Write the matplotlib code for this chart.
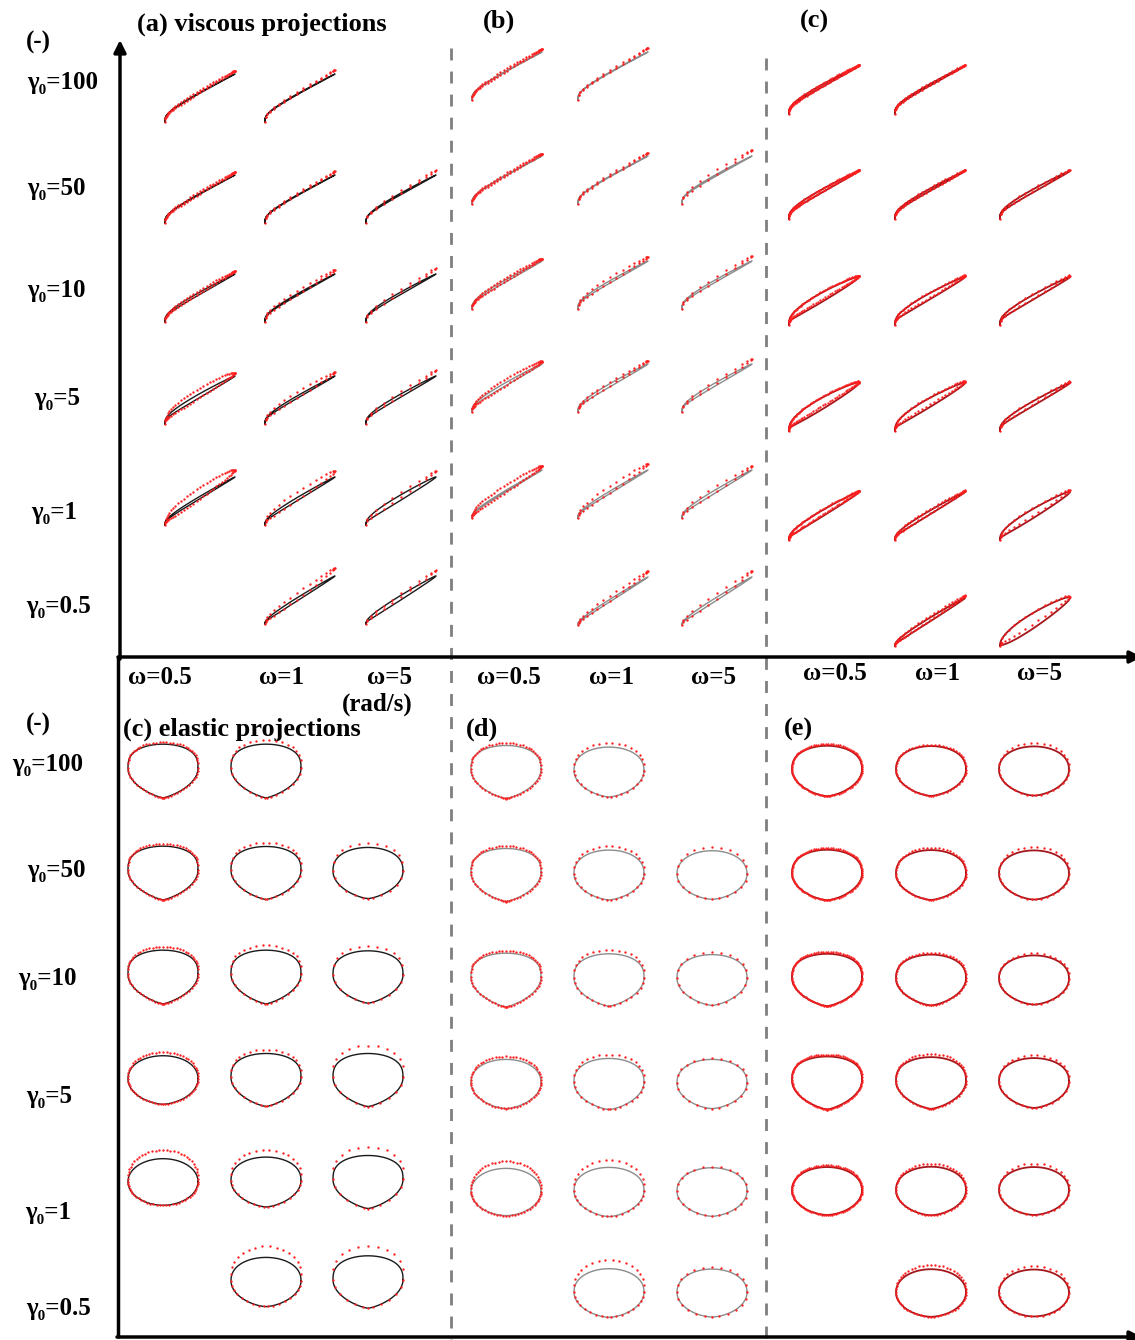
import numpy as np
import matplotlib
matplotlib.use("Agg")
import matplotlib.pyplot as plt

W, H = 1135, 1340
plt.rcParams['font.family'] = ['Liberation Serif', 'DejaVu Serif']
plt.rcParams['font.weight'] = 'bold'

gamma_labels = ["100", "50", "10", "5", "1", "0.5"]
omega_labels = ["0.5", "1", "5"]

# 1 = this (gamma0, omega) pair was measured
measured = [[1, 1, 0], [1, 1, 1], [1, 1, 1], [1, 1, 1], [1, 1, 1], [0, 1, 1]]
measured_e = [[1, 1, 1], [1, 1, 1], [1, 1, 1], [1, 1, 1], [1, 1, 1], [0, 1, 1]]

# ---- viscous projections ----
# how strongly the stress-rate curve bends near the origin, per gamma0 row
visc_bend = [0.32, 0.32, 0.30, 0.28, 0.22, 0.15]

# loop opening of model line / red data, and overshoot of red data at the end
fit_open_a = [[0.01, 0.01, 0], [0.01, 0.01, 0.02], [0.03, 0.02, 0.03], [0.05, 0.03, 0.04], [0.03, 0.04, 0.07], [0, 0.04, 0.06]]
red_open_a = [[0.04, 0.03, 0], [0.04, 0.04, 0.06], [0.06, 0.08, 0.07], [0.18, 0.11, 0.07], [0.22, 0.16, 0.09], [0, 0.12, 0.07]]
red_gain_a = [[0.07, 0.09, 0], [0.06, 0.08, 0.10], [0.06, 0.09, 0.12], [0.06, 0.08, 0.12], [0.14, 0.12, 0.12], [0, 0.17, 0.12]]

fit_open_b = [[0.01, 0.01, 0], [0.01, 0.01, 0.02], [0.03, 0.03, 0.03], [0.04, 0.04, 0.04], [0.02, 0.03, 0.04], [0, 0.03, 0.04]]
red_open_b = [[0.04, 0.03, 0], [0.04, 0.04, 0.09], [0.06, 0.09, 0.07], [0.12, 0.07, 0.07], [0.14, 0.13, 0.11], [0, 0.09, 0.11]]
red_gain_b = [[0.06, 0.09, 0], [0.05, 0.07, 0.13], [0.05, 0.09, 0.10], [0.05, 0.07, 0.10], [0.08, 0.13, 0.08], [0, 0.12, 0.12]]

fit_open_c = [[0.03, 0.02, 0], [0.04, 0.03, 0.04], [0.12, 0.08, 0.06], [0.15, 0.12, 0.06], [0.08, 0.05, 0.12], [0, 0.05, 0.20]]
red_open_c = [[0.05, 0.04, 0], [0.05, 0.05, 0.06], [0.14, 0.10, 0.08], [0.17, 0.14, 0.08], [0.10, 0.08, 0.14], [0, 0.08, 0.22]]
red_gain_c = [[0.02, 0.02, 0], [0.02, 0.02, 0.03], [0.02, 0.03, 0.03], [0.02, 0.03, 0.03], [0.02, 0.03, 0.04], [0, 0.05, 0.03]]

# ---- elastic projections ----
# egg factor of the model loop (0 = flat ellipse, 0.25 = flat top / pointed bottom)
egg_c = [[0.24, 0.24, 0], [0.24, 0.22, 0.16], [0.24, 0.24, 0.20], [0.08, 0.22, 0.22], [0.02, 0.12, 0.22], [0, 0.10, 0.20]]
egg_d = [[0.22, 0.12, 0], [0.22, 0.12, 0.08], [0.24, 0.20, 0.15], [0.10, 0.16, 0.10], [0.04, 0.10, 0.08], [0, 0.08, 0.06]]
egg_e = [[0.14, 0.12, 0.10], [0.14, 0.12, 0.10], [0.20, 0.15, 0.10], [0.22, 0.18, 0.12], [0.06, 0.08, 0.06], [0, 0.05, 0.03]]
# how far the red data sit above the model loop at the top
bulge_c = [[0.05, 0.10, 0], [0.06, 0.10, 0.12], [0.08, 0.12, 0.12], [0.10, 0.10, 0.20], [0.25, 0.20, 0.22], [0, 0.30, 0.25]]
bulge_d = [[0.06, 0.12, 0], [0.06, 0.10, 0.10], [0.06, 0.10, 0.06], [0.08, 0.10, 0.04], [0.20, 0.20, 0.03], [0, 0.25, 0.05]]
bulge_e = [[0.05, 0.04, 0.10], [0.05, 0.06, 0.10], [0.05, 0.05, 0.06], [0.05, 0.08, 0.08], [0.05, 0.08, 0.10], [0, 0.12, 0.10]]

# layout (pixels)
visc_col_x = [[200, 300, 401], [507, 613, 717], [824, 930, 1035]]
visc_row_y = [[98, 199, 298, 400, 501, 600], [76, 180, 285, 388, 494, 601], [90, 195, 301, 407, 516, 622]]
elas_col_x = [[163, 266, 368], [506, 609, 712], [827, 931, 1034]]
elas_row_y = [[771, 873, 977, 1080, 1182, 1282], [772, 875, 980, 1084, 1192, 1293], [771, 875, 980, 1083, 1191, 1293]]

line_colors = ["#1a1a1a", "#8c8c8c", "#a3161b"]
dot_color = "#ff1f1f"
dot_counts = [[64, 34, 24], [64, 34, 24], [90, 56, 34]]

fig = plt.figure(figsize=(W / 100, H / 100), dpi=100)
bg = fig.add_axes([0, 0, 1, 1])
bg.set_xlim(0, W)
bg.set_ylim(H, 0)
bg.set_axis_off()


def cell_axes(cx, cy, sx, sy, xlim, ylim):
    left = cx + xlim[0] * sx
    top = cy - ylim[1] * sy
    w = (xlim[1] - xlim[0]) * sx
    h = (ylim[1] - ylim[0]) * sy
    ax = fig.add_axes([left / W, 1 - (top + h) / H, w / W, h / H])
    ax.set_xlim(*xlim)
    ax.set_ylim(*ylim)
    ax.set_axis_off()
    return ax


def visc_loop(t, bend, up, lo, gain):
    x = (1 - np.cos(t)) / 2
    s = np.sin(t)
    y = ((1 - bend) * x + bend * x ** 0.25) * (1 + gain * x)
    y = y + np.where(s > 0, up * s, lo * s) * (1 - 0.4 * x)
    return x - 0.5, y - 0.5


def egg_loop(t, a, bulge=0.0):
    c, s = np.cos(t), np.sin(t)
    q = 1 + 2.4 * a          # pointed bottom
    m = 1 - 1.2 * a          # flat top
    depth = 1 + a
    upper = s >= 0
    x = np.where(upper, c, np.sign(c) * np.abs(c) ** q)
    y = np.where(upper, np.abs(s) ** m, -depth * np.abs(s))
    y = (y + (depth - 1) / 2) / ((1 + depth) / 2)
    top = np.clip(s, 0, None)
    y = y + 1.5 * bulge * top
    x = x * (1 + 0.4 * bulge * top)
    return x, y


tt = np.linspace(0, 2 * np.pi, 400)

# viscous cells
visc_sets = [(fit_open_a, red_open_a, red_gain_a), (fit_open_b, red_open_b, red_gain_b),
             (fit_open_c, red_open_c, red_gain_c)]
for g, (fo, ro, rg) in enumerate(visc_sets):
    for r in range(6):
        for c in range(3):
            if not measured[r][c]:
                continue
            ax = cell_axes(visc_col_x[g][c], visc_row_y[g][r], 70, 48, (-0.55, 0.55), (-0.6, 0.75))
            x, y = visc_loop(tt, visc_bend[r], fo[r][c], fo[r][c], 0)
            ax.plot(x, y, color=line_colors[g], lw=1.0 if g < 2 else 1.3)
            td = np.linspace(0, 2 * np.pi, dot_counts[g][c], endpoint=False)
            xd, yd = visc_loop(td, visc_bend[r], ro[r][c], 0.4 * ro[r][c], rg[r][c])
            ax.plot(xd, yd, 'o', color=dot_color, ms=1.7, mew=0)

# elastic cells (egg-like loops are taller than the flat elliptical ones)
elas_sets = [(egg_c, bulge_c, measured), (egg_d, bulge_d, measured), (egg_e, bulge_e, measured_e)]
for g, (eg, bu, mk) in enumerate(elas_sets):
    for r in range(6):
        for c in range(3):
            if not mk[r][c]:
                continue
            a = eg[r][c]
            ax = cell_axes(elas_col_x[g][c], elas_row_y[g][r], 35, (46 + 32 * a) / 2,
                           (-1.15, 1.15), (-1.25, 1.7))
            x, y = egg_loop(tt, a)
            ax.plot(x, y, color=line_colors[g], lw=1.0 if g < 2 else 1.3)
            td = np.linspace(0, 2 * np.pi, dot_counts[g][c], endpoint=False)
            xd, yd = egg_loop(td, a, bu[r][c])
            ax.plot(xd, yd, 'o', color=dot_color, ms=1.7, mew=0)

# axes arrows
arrow = dict(arrowstyle="-|>", lw=2.5, color="black", mutation_scale=18, shrinkA=0, shrinkB=0)
bg.annotate("", xy=(120, 40), xytext=(120, 659), arrowprops=arrow, annotation_clip=False)
bg.annotate("", xy=(1142, 657), xytext=(118, 657), arrowprops=arrow, annotation_clip=False)
bg.plot([118, 118], [656, 1338], color="black", lw=2.5, solid_capstyle="butt")
bg.annotate("", xy=(1142, 1337), xytext=(117, 1337), arrowprops=arrow, annotation_clip=False)

# dashed separators
bg.plot([451, 451], [48, 1340], color="#7f7f7f", lw=2, dashes=(4.3, 4.0))
bg.plot([766, 766], [58, 1340], color="#7f7f7f", lw=2, dashes=(4.3, 4.0))

tk = dict(fontsize=18, fontweight="bold", va="center")
tt_big = dict(fontsize=19, fontweight="bold", va="center")
bg.text(38, 42, "(-)", ha="center", **tk)
bg.text(137, 24, "(a) viscous projections", ha="left", **tt_big)
bg.text(499, 21, "(b)", ha="center", **tt_big)
bg.text(814, 21, "(c)", ha="center", **tt_big)
bg.text(38, 724, "(-)", ha="center", **tk)
bg.text(123, 729, "(c) elastic projections", ha="left", **tt_big)
bg.text(482, 729, "(d)", ha="center", **tt_big)
bg.text(798, 729, "(e)", ha="center", **tt_big)

top_lab_x = [63, 56, 56, 57, 54, 59]
top_lab_y = [82, 188, 291, 398, 513, 607]
bot_lab_x = [48, 56, 47, 49, 48, 59]
bot_lab_y = [765, 870, 978, 1097, 1212, 1309]
for i, gl in enumerate(gamma_labels):
    bg.text(top_lab_x[i], top_lab_y[i], "γ₀=" + gl, ha="center", **tk)
    bg.text(bot_lab_x[i], bot_lab_y[i], "γ₀=" + gl, ha="center", **tk)

omega_x = [[160, 282, 390], [509, 612, 713], [835, 937, 1040]]
omega_y = [678, 678, 674]
for g in range(3):
    for c, ol in enumerate(omega_labels):
        bg.text(omega_x[g][c], omega_y[g], "ω=" + ol, ha="center", **tk)
bg.text(377, 704, "(rad/s)", ha="center", **tk)

fig.savefig("out.png", dpi=100)
